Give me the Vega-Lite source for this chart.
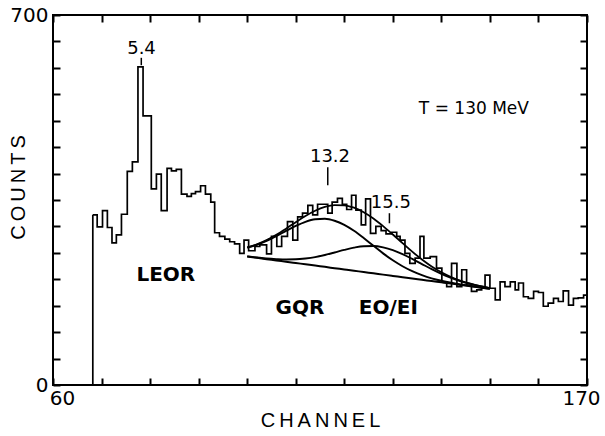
{
  "$schema": "https://vega.github.io/schema/vega-lite/v6.json",
  "width": 534,
  "height": 370,
  "autosize": "none",
  "padding": {"left": 53, "top": 15, "right": 18, "bottom": 51},
  "background": "white",
  "config": {
    "view": {"stroke": "black", "strokeWidth": 2},
    "font": "DejaVu Sans",
    "axis": {"labelColor": "black", "titleColor": "black", "tickColor": "black", "domain": false, "grid": false, "labelOverlap": false, "labelBound": false}
  },
  "datasets": {
    "hist": [
      {"channel":68.2,"counts":322},{"channel":69.1,"counts":299},{"channel":70.2,"counts":330},{"channel":71.2,"counts":298},
      {"channel":72.15,"counts":269},{"channel":73.05,"counts":284},{"channel":74.1,"counts":323},{"channel":75.3,"counts":404},
      {"channel":76.35,"counts":422},{"channel":77.5,"counts":602},{"channel":78.55,"counts":509},{"channel":80.25,"counts":371},
      {"channel":81.3,"counts":399},{"channel":82.3,"counts":330},{"channel":83.5,"counts":410},{"channel":84.4,"counts":405},
      {"channel":85.4,"counts":408},{"channel":86.45,"counts":361},{"channel":87.6,"counts":357},{"channel":88.5,"counts":362},
      {"channel":89.35,"counts":366},{"channel":90.4,"counts":377},{"channel":91.4,"counts":361},{"channel":92.5,"counts":346},
      {"channel":93.3,"counts":288},{"channel":94.3,"counts":281},{"channel":95.4,"counts":276},{"channel":96.4,"counts":271},
      {"channel":97.4,"counts":267},{"channel":98.45,"counts":249},{"channel":99.35,"counts":274},{"channel":100.3,"counts":254},
      {"channel":101.6,"counts":262},{"channel":102.6,"counts":265},{"channel":104.0,"counts":248},{"channel":105.0,"counts":281},
      {"channel":106.1,"counts":262},{"channel":107.1,"counts":281},{"channel":108.3,"counts":309},{"channel":109.4,"counts":274},
      {"channel":110.4,"counts":318},{"channel":111.4,"counts":325},{"channel":112.5,"counts":340},{"channel":113.5,"counts":322},
      {"channel":114.5,"counts":342},{"channel":115.6,"counts":342},{"channel":116.6,"counts":325},{"channel":117.5,"counts":346},
      {"channel":118.6,"counts":353},{"channel":119.6,"counts":342},{"channel":120.5,"counts":332},{"channel":121.5,"counts":359},
      {"channel":122.4,"counts":331},{"channel":123.5,"counts":303},{"channel":124.4,"counts":352},{"channel":125.4,"counts":287},
      {"channel":126.5,"counts":300},{"channel":127.6,"counts":292},{"channel":128.6,"counts":286},{"channel":129.8,"counts":289},
      {"channel":130.8,"counts":281},{"channel":131.5,"counts":274},{"channel":132.5,"counts":249},{"channel":133.5,"counts":230},
      {"channel":134.6,"counts":240},{"channel":135.6,"counts":281},{"channel":136.4,"counts":240},{"channel":137.7,"counts":243},
      {"channel":139.0,"counts":221},{"channel":140.1,"counts":195},{"channel":141.1,"counts":186},{"channel":142.1,"counts":230},
      {"channel":143.2,"counts":186},{"channel":144.2,"counts":218},{"channel":145.2,"counts":189},{"channel":146.2,"counts":177},
      {"channel":147.3,"counts":180},{"channel":148.3,"counts":183},{"channel":149.0,"counts":208},{"channel":150.0,"counts":183},
      {"channel":151.1,"counts":161},{"channel":152.1,"counts":195},{"channel":153.1,"counts":186},{"channel":154.2,"counts":195},
      {"channel":155.2,"counts":180},{"channel":155.9,"counts":193},{"channel":156.9,"counts":167},{"channel":157.9,"counts":164},
      {"channel":159.0,"counts":177},{"channel":160.0,"counts":175},{"channel":161.0,"counts":149},{"channel":162.0,"counts":155},
      {"channel":163.1,"counts":164},{"channel":164.1,"counts":158},{"channel":165.1,"counts":178},{"channel":166.2,"counts":151},
      {"channel":167.2,"counts":164},{"channel":168.2,"counts":165},{"channel":169.3,"counts":170},{"channel":170,"counts":170}
    ],
    "fit": [
      {"channel":100,"bg":243.0,"gqr":259.9,"eo":243.3,"sum":260.2},
      {"channel":102,"bg":240.6,"gqr":265.4,"eo":241.3,"sum":266.1},
      {"channel":104,"bg":238.1,"gqr":272.8,"eo":239.4,"sum":274.1},
      {"channel":106,"bg":235.7,"gqr":281.8,"eo":238.2,"sum":284.3},
      {"channel":108,"bg":233.2,"gqr":291.5,"eo":237.5,"sum":295.8},
      {"channel":110,"bg":230.8,"gqr":300.9,"eo":237.8,"sum":307.9},
      {"channel":112,"bg":228.4,"gqr":308.7,"eo":239.4,"sum":319.7},
      {"channel":114,"bg":225.9,"gqr":313.5,"eo":242.0,"sum":329.6},
      {"channel":116,"bg":223.5,"gqr":314.4,"eo":246.0,"sum":336.9},
      {"channel":118,"bg":221.0,"gqr":310.7,"eo":250.7,"sum":340.4},
      {"channel":120,"bg":218.6,"gqr":303.0,"eo":255.6,"sum":340.0},
      {"channel":122,"bg":216.2,"gqr":291.7,"eo":259.9,"sum":335.4},
      {"channel":124,"bg":213.7,"gqr":278.0,"eo":262.6,"sum":326.9},
      {"channel":126,"bg":211.3,"gqr":263.4,"eo":262.9,"sum":315.0},
      {"channel":128,"bg":208.8,"gqr":249.0,"eo":260.4,"sum":300.6},
      {"channel":130,"bg":206.4,"gqr":235.9,"eo":255.3,"sum":284.8},
      {"channel":132,"bg":204.0,"gqr":224.7,"eo":247.7,"sum":268.4},
      {"channel":134,"bg":201.5,"gqr":215.3,"eo":238.5,"sum":252.3},
      {"channel":136,"bg":199.1,"gqr":207.8,"eo":228.8,"sum":237.5},
      {"channel":138,"bg":196.6,"gqr":201.8,"eo":219.1,"sum":224.3},
      {"channel":140,"bg":194.2,"gqr":197.2,"eo":210.3,"sum":213.3},
      {"channel":142,"bg":191.8,"gqr":193.4,"eo":202.8,"sum":204.4},
      {"channel":144,"bg":189.3,"gqr":190.2,"eo":196.3,"sum":197.2},
      {"channel":146,"bg":186.9,"gqr":187.3,"eo":191.2,"sum":191.6},
      {"channel":148,"bg":184.4,"gqr":184.6,"eo":186.9,"sum":187.1},
      {"channel":150,"bg":182.0,"gqr":182.1,"eo":183.3,"sum":183.4}
    ]
  },
  "resolve": {"axis": {"x": "independent", "y": "independent"}},
  "layer": [
    {
      "data": {"name": "hist"},
      "mark": {"type": "line", "interpolate": "step-after", "color": "black", "strokeWidth": 1.7},
      "encoding": {
        "x": {"field": "channel", "type": "quantitative", "scale": {"domain": [60, 170], "nice": false, "zero": false},
          "axis": {"orient": "bottom", "values": [60,70,80,90,100,110,120,130,140,150,160,170], "tickSize": -7, "tickWidth": 2,
            "labelExpr": "datum.value == 60 || datum.value == 170 ? datum.label : ''",
            "labelFontSize": 20, "labelFont": "DejaVu Sans", "labelPadding": 10, "labelFlush": false,
            "labelOffset": {"condition": {"test": "datum.value == 60", "value": 9}, "value": -6},
            "title": "C\u2009H\u2009A\u2009N\u2009N\u2009E\u2009L", "titleFont": "Liberation Sans", "titleFontSize": 20, "titleFontWeight": "normal",
            "titleX": 267, "titleY": 35, "titleBaseline": "middle", "titleAlign": "center"}},
        "y": {"field": "counts", "type": "quantitative", "scale": {"domain": [0, 700], "nice": false},
          "axis": {"orient": "left", "values": [0,50,100,150,200,250,300,350,400,450,500,550,600,650,700], "tickSize": -7, "tickWidth": 2,
            "labelExpr": "datum.value == 0 || datum.value == 700 ? datum.label : ''",
            "labelFontSize": 20, "labelFont": "DejaVu Sans", "labelPadding": 12, "labelFlush": false,
            "title": "C\u2009O\u2009U\u2009N\u2009T\u2009S", "titleFont": "Liberation Sans", "titleFontSize": 20, "titleFontWeight": "normal",
            "titleX": -35, "titleY": 172, "titleAngle": 270, "titleBaseline": "middle", "titleAlign": "center"}}
      }
    },
    {
      "data": {"values": [{"channel": 68.2, "counts": 322}]},
      "mark": {"type": "rule", "color": "black", "strokeWidth": 1.7},
      "encoding": {
        "x": {"field": "channel", "type": "quantitative",
          "axis": {"orient": "top", "values": [60,70,80,90,100,110,120,130,140,150,160,170], "tickSize": -7, "tickWidth": 2, "labels": false, "title": null}},
        "y": {"field": "counts", "type": "quantitative",
          "axis": {"orient": "right", "values": [0,50,100,150,200,250,300,350,400,450,500,550,600,650,700], "tickSize": -7, "tickWidth": 2, "labels": false, "title": null}},
        "y2": {"datum": 0}
      }
    },
    {
      "data": {"name": "fit"},
      "transform": [{"fold": ["bg", "gqr", "eo", "sum"], "as": ["curve", "value"]}],
      "mark": {"type": "line", "interpolate": "monotone", "color": "black"},
      "encoding": {
        "x": {"field": "channel", "type": "quantitative", "axis": null},
        "y": {"field": "value", "type": "quantitative", "axis": null},
        "detail": {"field": "curve"},
        "strokeWidth": {"field": "curve", "type": "nominal", "scale": {"domain": ["bg", "gqr", "eo", "sum"], "range": [2, 1.8, 1.3, 2.3]}, "legend": null}
      }
    },
    {
      "data": {"values": [
        {"channel": 78.19, "lo": 605, "hi": 619},
        {"channel": 116.6, "lo": 378, "hi": 412},
        {"channel": 129.3, "lo": 306, "hi": 325}
      ]},
      "mark": {"type": "rule", "color": "black", "strokeWidth": 1.5},
      "encoding": {
        "x": {"field": "channel", "type": "quantitative", "axis": null},
        "y": {"field": "lo", "type": "quantitative", "axis": null},
        "y2": {"field": "hi"}
      }
    },
    {
      "data": {"values": [
        {"channel": 78.23, "counts": 636, "label": "5.4"},
        {"channel": 117.06, "counts": 431, "label": "13.2"},
        {"channel": 129.6, "counts": 345, "label": "15.5"}
      ]},
      "mark": {"type": "text", "font": "DejaVu Sans", "fontSize": 18, "align": "center", "baseline": "middle", "color": "black"},
      "encoding": {
        "x": {"field": "channel", "type": "quantitative", "axis": null},
        "y": {"field": "counts", "type": "quantitative", "axis": null},
        "text": {"field": "label"}
      }
    },
    {
      "data": {"values": [
        {"channel": 83.24, "counts": 208, "label": "LEOR"},
        {"channel": 110.88, "counts": 145, "label": "GQR"},
        {"channel": 129.07, "counts": 145, "label": "EO/EI"}
      ]},
      "mark": {"type": "text", "font": "DejaVu Sans", "fontWeight": "bold", "fontSize": 20, "align": "center", "baseline": "middle", "color": "black"},
      "encoding": {
        "x": {"field": "channel", "type": "quantitative", "axis": null},
        "y": {"field": "counts", "type": "quantitative", "axis": null},
        "text": {"field": "label"}
      }
    },
    {
      "data": {"values": [{"channel": 146.7, "counts": 523, "label": "T = 130 MeV"}]},
      "mark": {"type": "text", "font": "DejaVu Sans", "fontSize": 17, "align": "center", "baseline": "middle", "color": "black"},
      "encoding": {
        "x": {"field": "channel", "type": "quantitative", "axis": null},
        "y": {"field": "counts", "type": "quantitative", "axis": null},
        "text": {"field": "label"}
      }
    }
  ]
}
